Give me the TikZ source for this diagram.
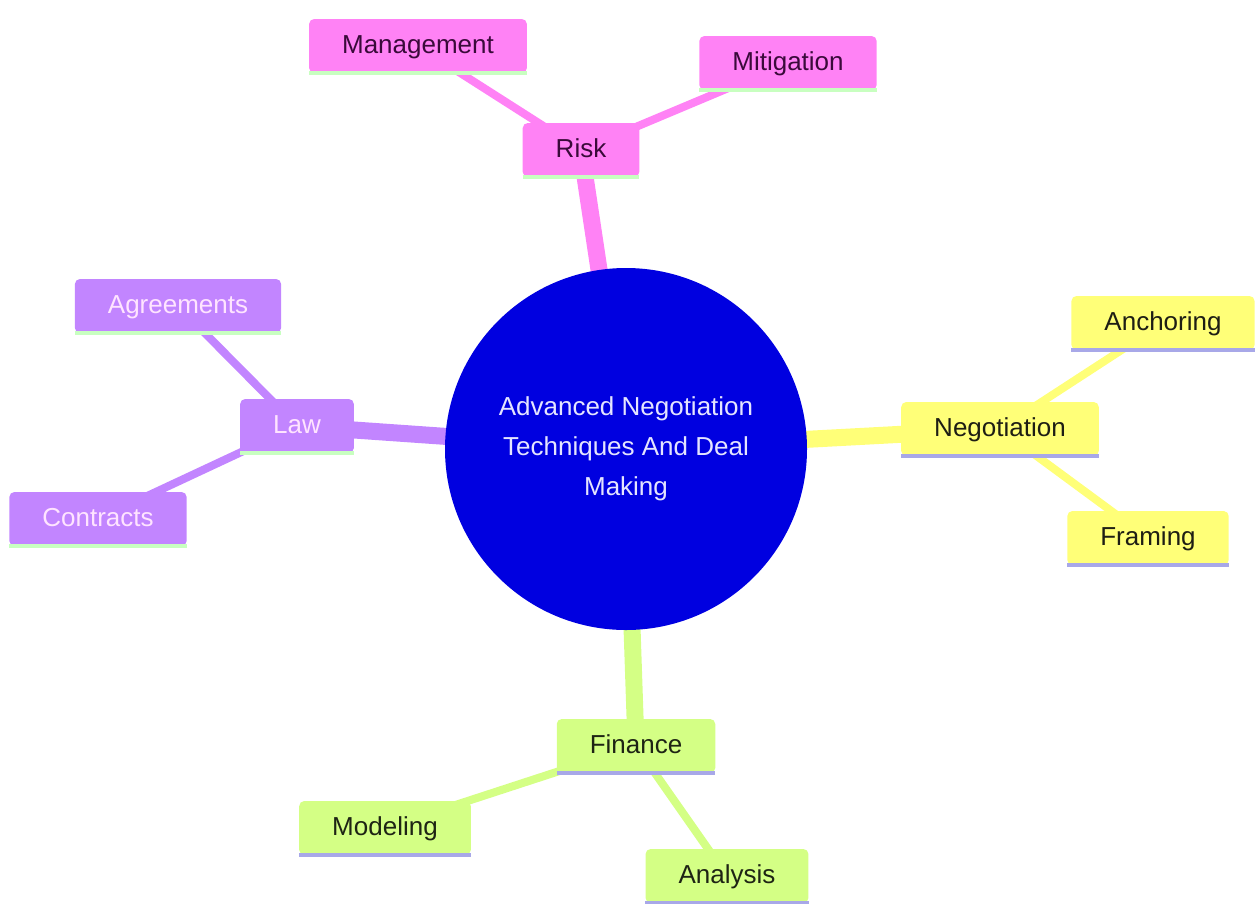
\documentclass[tikz,border=0pt]{standalone}
\usepackage{fontspec}
\setmainfont{Liberation Sans}
\usetikzlibrary{backgrounds}
\definecolor{rootblue}{HTML}{0000E0}
\definecolor{rootText}{HTML}{E4E4FF}
\definecolor{pinkF}{HTML}{FF82F5}
\definecolor{pinkT}{HTML}{3A0A3A}
\definecolor{yelF}{HTML}{FFFF78}
\definecolor{yelT}{HTML}{1E1E14}
\definecolor{grnF}{HTML}{D4FF85}
\definecolor{grnT}{HTML}{1E2414}
\definecolor{purF}{HTML}{C285FF}
\definecolor{purT}{HTML}{FFE4FF}
\definecolor{ulGreen}{HTML}{C8FFC0}
\definecolor{ulLav}{HTML}{A8A8E8}
\tikzset{
  mmnode/.style={rounded corners=5pt, inner xsep=33pt, inner ysep=0pt, minimum height=54pt,
    font=\fontsize{26}{30}\selectfont, text height=19pt, text depth=5pt},
  pinknode/.style={mmnode, fill=pinkF, text=pinkT},
  yelnode/.style={mmnode, fill=yelF, text=yelT},
  grnnode/.style={mmnode, fill=grnF, text=grnT},
  purnode/.style={mmnode, fill=purF, text=purT},
  lvlone/.style={line width=17pt},
  lvltwo/.style={line width=8pt},
  uline/.style={line width=3.5pt},
}
\begin{document}
\begin{tikzpicture}[x=1pt,y=-1pt]
\useasboundingbox (0,0) rectangle (1255,903);
% root
\node[circle, fill=rootblue, minimum size=362pt, inner sep=0pt, text=rootText,
  align=center, font=\fontsize{26}{40}\selectfont] (root) at (626,449)
  {Advanced Negotiation\\Techniques And Deal\\Making};
% Risk branch
\node[pinknode] (risk) at (581,150) {Risk};
\node[pinknode] (mgmt) at (418,46) {Management};
\node[pinknode] (mitig) at (788,63) {Mitigation};
% Negotiation branch
\node[yelnode] (nego) at (1000,429) {Negotiation};
\node[yelnode] (anch) at (1163,323) {Anchoring};
\node[yelnode] (fram) at (1148,538) {Framing};
% Finance branch
\node[grnnode] (fin) at (636,746) {Finance};
\node[grnnode] (model) at (385,828) {Modeling};
\node[grnnode] (anal) at (727,876) {Analysis};
% Law branch
\node[purnode] (law) at (297,426) {Law};
\node[purnode] (agree) at (178,306) {Agreements};
\node[purnode] (contr) at (98,519) {Contracts};
% underlines
\foreach \n in {risk,mgmt,mitig,law,agree,contr}{
  \draw[uline, ulGreen] (\n.south west) -- (\n.south east);
}
\foreach \n in {nego,anch,fram,fin,model,anal}{
  \draw[uline, ulLav] (\n.south west) -- (\n.south east);
}
\begin{pgfonlayer}{background}
  \draw[lvlone, pinkF] (root.center) -- (risk.center);
  \draw[lvltwo, pinkF] (risk.center) -- (mgmt.center);
  \draw[lvltwo, pinkF] (risk.center) -- (mitig.center);
  \draw[lvlone, yelF] (root.center) -- (nego.center);
  \draw[lvltwo, yelF] (nego.center) -- (anch.center);
  \draw[lvltwo, yelF] (nego.center) -- (fram.center);
  \draw[lvlone, grnF] (root.center) -- (fin.center);
  \draw[lvltwo, grnF] (fin.center) -- (model.center);
  \draw[lvltwo, grnF] (fin.center) -- (anal.center);
  \draw[lvlone, purF] (root.center) -- (law.center);
  \draw[lvltwo, purF] (law.center) -- (agree.center);
  \draw[lvltwo, purF] (law.center) -- (contr.center);
\end{pgfonlayer}
\end{tikzpicture}
\end{document}
